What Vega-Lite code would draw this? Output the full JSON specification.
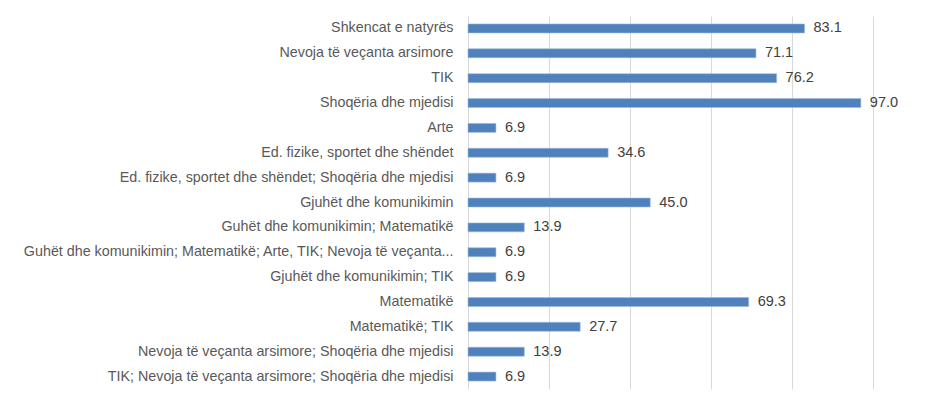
{
  "$schema": "https://vega.github.io/schema/vega-lite/v6.json",
  "autosize": "none",
  "width": 405,
  "height": 373,
  "padding": {"left": 468, "top": 16, "right": 71, "bottom": 30},
  "background": "white",
  "config": {"view": {"stroke": null}, "font": "Liberation Sans"},
  "data": {"values": [
    {"k": "Shkencat e natyrës", "v": 83.1},
    {"k": "Nevoja të veçanta arsimore", "v": 71.1},
    {"k": "TIK", "v": 76.2},
    {"k": "Shoqëria dhe mjedisi", "v": 97.0},
    {"k": "Arte", "v": 6.9},
    {"k": "Ed. fizike, sportet dhe shëndet", "v": 34.6},
    {"k": "Ed. fizike, sportet dhe shëndet; Shoqëria dhe mjedisi", "v": 6.9},
    {"k": "Gjuhët dhe komunikimin", "v": 45.0},
    {"k": "Guhët dhe komunikimin; Matematikë", "v": 13.9},
    {"k": "Guhët dhe komunikimin; Matematikë; Arte, TIK; Nevoja të veçanta...", "v": 6.9},
    {"k": "Gjuhët dhe komunikimin; TIK", "v": 6.9},
    {"k": "Matematikë", "v": 69.3},
    {"k": "Matematikë; TIK", "v": 27.7},
    {"k": "Nevoja të veçanta arsimore; Shoqëria dhe mjedisi", "v": 13.9},
    {"k": "TIK; Nevoja të veçanta arsimore; Shoqëria dhe mjedisi", "v": 6.9}
  ]},
  "encoding": {
    "y": {"field": "k", "type": "nominal", "sort": null,
      "scale": {"paddingInner": 0.64, "paddingOuter": 0.32},
      "axis": {"title": null, "ticks": false, "labelPadding": 15, "labelLimit": 0,
        "labelFontSize": 14.3, "labelColor": "#595959", "domainColor": "#d9d9d9", "grid": false}},
    "x": {"field": "v", "type": "quantitative",
      "scale": {"domain": [0, 100]},
      "axis": {"title": null, "labels": false, "ticks": false, "domain": false,
        "values": [20, 40, 60, 80, 100], "gridColor": "#d9d9d9", "gridWidth": 1}}
  },
  "layer": [
    {"mark": {"type": "bar", "color": "#4F81BD", "stroke": "#9db9dc", "strokeWidth": 0.6}},
    {"mark": {"type": "text", "align": "left", "dx": 9, "fontSize": 14.5, "color": "#404040"},
     "encoding": {"text": {"field": "v", "type": "quantitative", "format": ".1f"}}}
  ]
}
